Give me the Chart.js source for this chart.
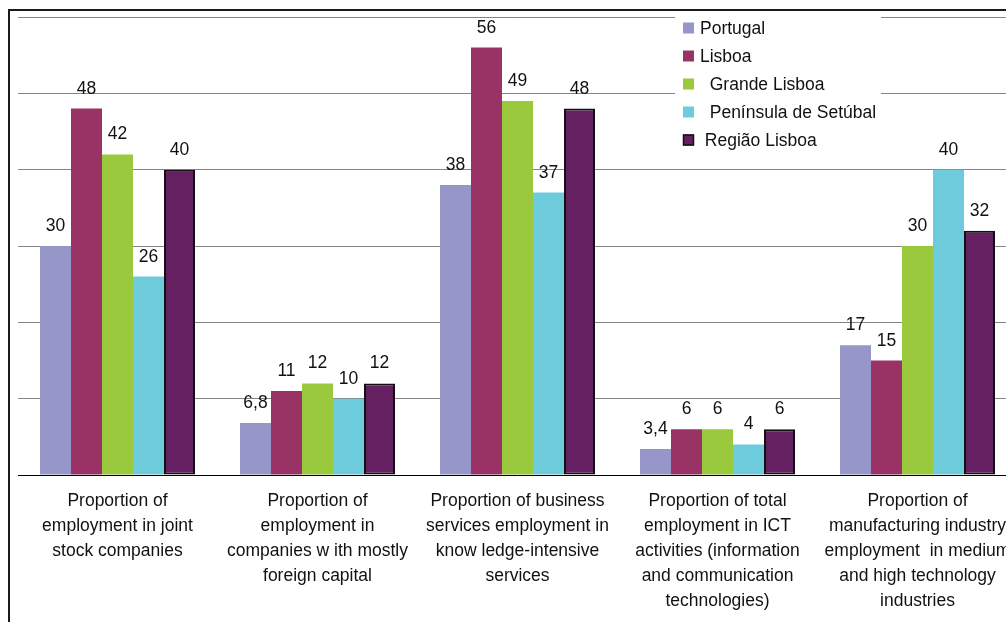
<!DOCTYPE html>
<html>
<head>
<meta charset="utf-8">
<script src="https://cdn.jsdelivr.net/npm/chart.js@4/dist/chart.umd.min.js"></script>
<style>
  html, body { margin: 0; padding: 0; background: #fff; overflow: hidden; }
  #frame { position: absolute; left: 8px; top: 9px; width: 1200px; height: 800px;
           border-left: 2px solid #1a1a1a; border-top: 2px solid #1a1a1a; }
  #chart { position: absolute; left: 0; top: 0; display: block; }
</style>
</head>
<body>
<div id="frame"></div>
<canvas id="chart" width="1030" height="622"></canvas>
<script>
// categories (x axis, one array per wrapped label)
const categories = [
  ["Proportion of", "employment in joint", "stock companies"],
  ["Proportion of", "employment in", "companies w ith mostly", "foreign capital"],
  ["Proportion of business", "services employment in", "know ledge-intensive", "services"],
  ["Proportion of total", "employment in ICT", "activities (information", "and communication", "technologies)"],
  ["Proportion of", "manufacturing industry", "employment  in medium", "and high technology", "industries"]
];

// series
const seriesNames = ["Portugal", "Lisboa", "  Grande Lisboa", "  Península de Setúbal", " Região Lisboa"];
const portugal   = [30, 6.8, 38, 3.4, 17];
const lisboa     = [48, 11, 56, 6, 15];
const grandeLx   = [42, 12, 49, 6, 30];
const peninsula  = [26, 10, 37, 4, 40];
const regiaoLx   = [40, 12, 48, 6, 32];

// y axis
const yMin = 0, yMax = 60, yStep = 10;

const colors = ['#9696C9', '#993366', '#9BC93D', '#6DCBDB', '#652061'];

const FONT = "17.5px 'Liberation Sans', Arial, sans-serif";
Chart.defaults.font.family = "'Liberation Sans', Arial, sans-serif";
Chart.defaults.font.size = 17.5;
Chart.defaults.color = '#111';

const fmt = v => String(v).replace('.', ',');

// value labels above bars
const barLabels = {
  id: 'barLabels',
  afterDatasetsDraw(chart) {
    const ctx = chart.ctx;
    ctx.save();
    ctx.font = FONT;
    ctx.fillStyle = '#111';
    ctx.textAlign = 'center';
    ctx.textBaseline = 'alphabetic';
    chart.data.datasets.forEach((ds, i) => {
      chart.getDatasetMeta(i).data.forEach((bar, j) => {
        ctx.fillText(fmt(ds.data[j]), bar.x, bar.y - 15);
      });
    });
    ctx.restore();
  }
};

// legend box sitting over the plot, top right
const boxLegend = {
  id: 'boxLegend',
  afterDraw(chart) {
    const ctx = chart.ctx;
    const x0 = 675, y0 = 12, rowH = 28;
    ctx.save();
    ctx.fillStyle = '#fff';
    ctx.fillRect(x0, y0, 206, 144);
    ctx.font = FONT;
    ctx.textBaseline = 'middle';
    ctx.textAlign = 'left';
    chart.data.datasets.forEach((ds, i) => {
      const cy = 28 + i * rowH;
      ctx.fillStyle = ds.backgroundColor;
      ctx.fillRect(x0 + 8, cy - 5.5, 11, 11);
      if (ds.borderWidth) {
        ctx.strokeStyle = '#111';
        ctx.lineWidth = 1.5;
        ctx.strokeRect(x0 + 8.5, cy - 5, 10, 10);
      }
      ctx.fillStyle = '#111';
      ctx.fillText(ds.label, x0 + 25, cy + 1);
    });
    ctx.restore();
  }
};

const seriesData = [portugal, lisboa, grandeLx, peninsula, regiaoLx];

new Chart(document.getElementById('chart'), {
  type: 'bar',
  data: {
    labels: categories,
    datasets: seriesNames.map((name, i) => ({
      label: name,
      data: seriesData[i],
      backgroundColor: colors[i],
      borderColor: '#111',
      borderWidth: i === 4 ? 2 : 0,
      borderSkipped: false,
      categoryPercentage: 0.775,
      barPercentage: 1
    }))
  },
  options: {
    responsive: false,
    animation: false,
    devicePixelRatio: 1,
    layout: { padding: { left: 17.5, top: 17, right: 12.5, bottom: 0 } },
    plugins: { legend: { display: false }, tooltip: { enabled: false } },
    scales: {
      x: {
        grid: { display: false },
        border: { display: false },
        ticks: {
          autoSkip: false, maxRotation: 0, minRotation: 0,
          padding: 6,
          color: '#111',
          font: { size: 17.5, lineHeight: '25px' }
        },
        afterFit: s => { s.height = 147; }
      },
      y: {
        min: yMin, max: yMax,
        ticks: { display: false, stepSize: yStep },
        border: { display: false },
        grid: {
          drawTicks: false,
          lineWidth: 1,
          color: c => c.tick && c.tick.value === 0 ? '#000' : '#858585'
        },
        afterFit: s => { s.width = 0; }
      }
    }
  },
  plugins: [barLabels, boxLegend]
});
</script>
</body>
</html>
